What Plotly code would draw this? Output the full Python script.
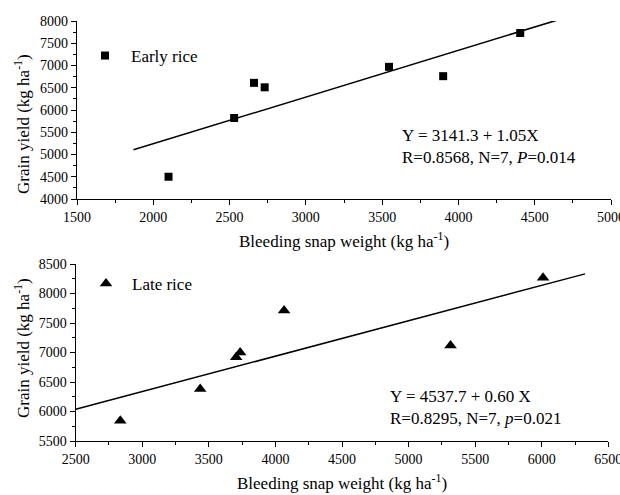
import plotly.graph_objects as go

# Early rice: bleeding snap weight vs grain yield (kg/ha)
early_snap = [2100, 2530, 2660, 2730, 3545, 3900, 4405]
early_yield = [4500, 5820, 6610, 6510, 6970, 6760, 7730]
early_fit = (3141.3, 1.05)          # intercept, slope
early_fit_x = [1870, 4640]

# Late rice
late_snap = [2835, 3435, 3705, 3735, 4065, 5315, 6010]
late_yield = [5845, 6380, 6920, 7000, 7710, 7120, 8265]
late_fit = (4537.7, 0.60)
late_fit_x = [2500, 6325]

W, H = 620, 495
FONT = "Liberation Serif"


def px(x):
    return x / W


def py(y):
    return 1 - y / H


def fit_line(xs, coef):
    a, b = coef
    return [a + b * x for x in xs]


fig = go.Figure()

fig.add_trace(go.Scatter(
    x=early_snap, y=early_yield, mode="markers", name="Early rice",
    marker=dict(symbol="square", size=8, color="black"),
    xaxis="x", yaxis="y", legend="legend"))
fig.add_trace(go.Scatter(
    x=early_fit_x, y=fit_line(early_fit_x, early_fit), mode="lines",
    line=dict(color="black", width=1.5), showlegend=False,
    xaxis="x", yaxis="y"))

fig.add_trace(go.Scatter(
    x=late_snap, y=late_yield, mode="markers", name="Late rice",
    marker=dict(symbol="triangle-up", size=11, color="black"),
    xaxis="x2", yaxis="y2", legend="legend2"))
fig.add_trace(go.Scatter(
    x=late_fit_x, y=fit_line(late_fit_x, late_fit), mode="lines",
    line=dict(color="black", width=1.5), showlegend=False,
    xaxis="x2", yaxis="y2"))

minor = dict(ticks="outside", ticklen=3, dtick=250, tickcolor="black", tickwidth=1.2)
axis_common = dict(
    showline=True, linecolor="black", linewidth=1.3,
    ticks="outside", ticklen=5, tickwidth=1.3, tickcolor="black",
    showgrid=False, zeroline=False, ticklabeloverflow="allow", automargin=False,
    tickfont=dict(family=FONT, size=14, color="black"),
    dtick=500, minor=minor,
)

fig.update_layout(
    width=W, height=H,
    margin=dict(l=0, r=0, t=0, b=0),
    paper_bgcolor="white", plot_bgcolor="white",
    font=dict(family=FONT, color="black"),
    xaxis=dict(axis_common, domain=[px(77), px(611)], range=[1500, 5000], anchor="y"),
    yaxis=dict(axis_common, domain=[py(199), py(21)], range=[4000, 8000], anchor="x"),
    xaxis2=dict(axis_common, domain=[px(75.7), px(608.3)], range=[2500, 6500], anchor="y2"),
    yaxis2=dict(axis_common, domain=[py(441), py(264)], range=[5500, 8500], anchor="x2"),
    legend=dict(x=px(79), y=py(56), xanchor="left", yanchor="middle", itemwidth=42,
                bgcolor="rgba(0,0,0,0)", font=dict(family=FONT, size=17)),
    legend2=dict(x=px(80), y=py(284), xanchor="left", yanchor="middle", itemwidth=42,
                 bgcolor="rgba(0,0,0,0)", font=dict(family=FONT, size=17)),
)

xtitle = "Bleeding snap weight (kg ha<sup>-1</sup>)"
ytitle = "Grain yield (kg ha<sup>-1</sup>)"

annots = [
    dict(x=px(344), y=py(240), text=xtitle),
    dict(x=px(342), y=py(482), text=xtitle),
    dict(x=px(22), y=py(124), text=ytitle, textangle=-90),
    dict(x=px(22), y=py(348), text=ytitle, textangle=-90),
    dict(x=px(400), y=py(146), xanchor="left", align="left",
         text=f"Y = {early_fit[0]} + {early_fit[1]:.2f}X<br>R=0.8568, N=7, <i>P</i>=0.014"),
    dict(x=px(388), y=py(407), xanchor="left", align="left",
         text=f"Y = {late_fit[0]} + {late_fit[1]:.2f} X<br>R=0.8295, N=7, <i>p</i>=0.021"),
]
for a in annots:
    a.setdefault("xanchor", "center")
    fig.add_annotation(xref="paper", yref="paper", yanchor="middle",
                       showarrow=False, font=dict(family=FONT, size=17, color="black"),
                       **a)

fig.write_html("out.html")
